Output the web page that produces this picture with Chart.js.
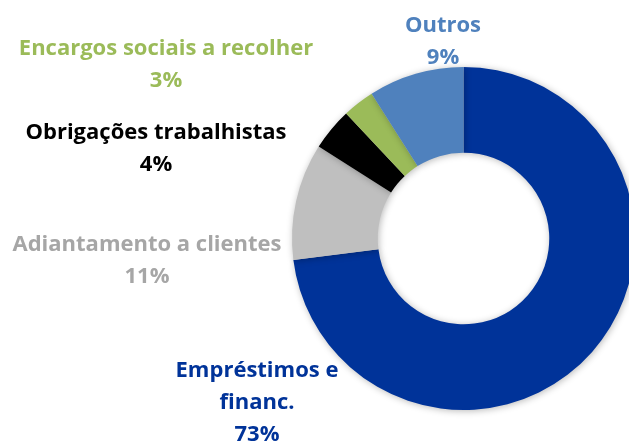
<!DOCTYPE html>
<html>
<head>
<meta charset="utf-8">
<script src="https://cdn.jsdelivr.net/npm/chart.js@4"></script>
<style>
  html, body { margin: 0; padding: 0; background: #fff; overflow: hidden; }
  #wrap { position: relative; width: 629px; height: 441px; overflow: hidden; }
  #chart { position: absolute; left: 0; top: 0; }
</style>
</head>
<body>
<div id="wrap">
  <canvas id="chart" width="640" height="441"></canvas>
</div>
<script>
// Chart data
const categories = [
    ['Empréstimos e', 'financ.'],
    ['Adiantamento a clientes'],
    ['Obrigações trabalhistas'],
    ['Encargos sociais a recolher'],
    ['Outros']
];
const shares = [73, 11, 4, 3, 9];
const sliceColors = ['#003399', '#BFBFBF', '#000000', '#9BBB59', '#4F81BD'];
const labelColors = ['#003399', '#A6A6A6', '#000000', '#9BBB59', '#4F81BD'];

// where each outside label sits (centre x, first baseline y)
const labelSpots = [
    { x: 257, y: 377 },
    { x: 147, y: 251 },
    { x: 156, y: 139 },
    { x: 166, y: 55 },
    { x: 443, y: 32 }
];
const lineHeight = 32;

const shadowPlugin = {
    id: 'softShadow',
    beforeDatasetsDraw(chart) {
        const ctx = chart.ctx;
        ctx.save();
        ctx.shadowColor = 'rgba(0,0,0,0.28)';
        ctx.shadowBlur = 7;
        ctx.shadowOffsetX = 1;
        ctx.shadowOffsetY = 1;
    },
    afterDatasetsDraw(chart) {
        chart.ctx.restore();
    }
};

const outsideLabels = {
    id: 'outsideLabels',
    afterDraw(chart) {
        const ctx = chart.ctx;
        const data = chart.data.datasets[0].data;
        const total = data.reduce((a, b) => a + b, 0);
        ctx.save();
        ctx.font = 'bold 22px "Open Sans"';
        ctx.textAlign = 'center';
        ctx.textBaseline = 'alphabetic';
        chart.data.labels.forEach((lines, i) => {
            const spot = labelSpots[i];
            const pct = Math.round(data[i] / total * 100) + '%';
            ctx.fillStyle = labelColors[i];
            [...lines, pct].forEach((txt, j) => {
                ctx.fillText(txt, spot.x, spot.y + j * lineHeight);
            });
        });
        ctx.restore();
    }
};

new Chart(document.getElementById('chart'), {
    type: 'doughnut',
    data: {
        labels: categories,
        datasets: [{
            data: shares,
            backgroundColor: sliceColors,
            borderWidth: 0
        }]
    },
    options: {
        responsive: false,
        animation: false,
        cutout: '50%',
        rotation: 0,
        layout: {
            padding: { left: 292, top: 67, right: 5, bottom: 31 }
        },
        plugins: {
            legend: { display: false },
            tooltip: { enabled: false }
        }
    },
    plugins: [shadowPlugin, outsideLabels]
});
</script>
</body>
</html>
